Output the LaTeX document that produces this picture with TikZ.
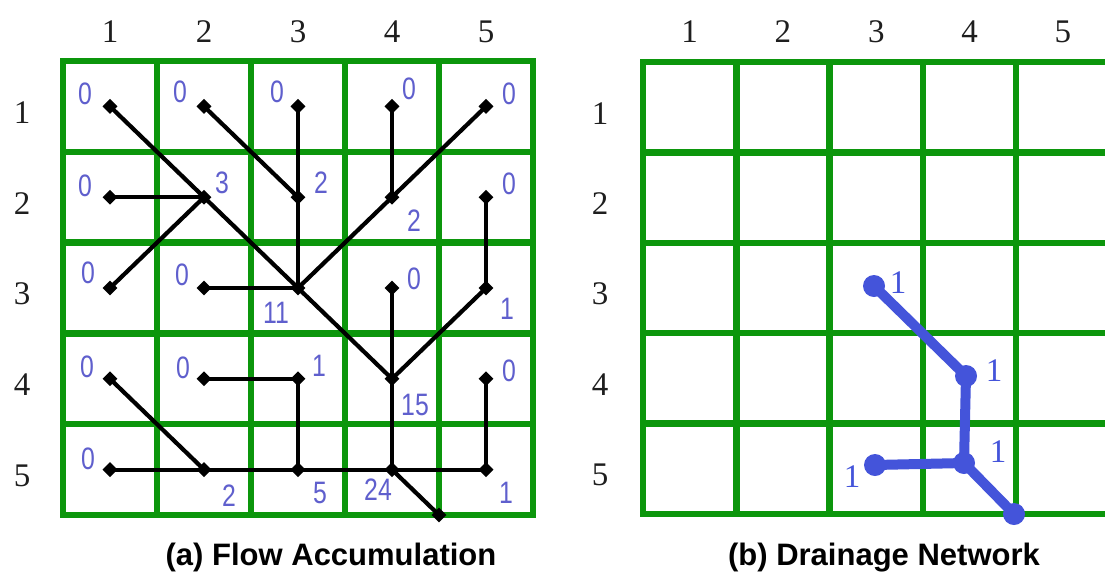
\documentclass[tikz,border=0pt]{standalone}
\usepackage{fontspec}
\usetikzlibrary{shapes.geometric}
\newfontfamily\serifnum{Liberation Serif}
\newfontfamily\cellfont[FakeStretch=0.8]{Liberation Sans}
\newfontfamily\capfont{Liberation Sans}
\definecolor{gridgreen}{RGB}{12,150,12}
\definecolor{acclabel}{RGB}{95,95,205}
\definecolor{netblue}{RGB}{68,84,218}
\definecolor{axisgray}{RGB}{30,30,30}
\tikzset{
  gridline/.style={draw=gridgreen, line width=6.5pt},
  flow/.style={draw=black, line width=4.2pt},
  flowdot/.style={diamond, fill=black, inner sep=0pt, minimum size=15pt},
  acc/.style={text=acclabel, inner sep=0pt, font=\cellfont\fontsize{31}{31}\selectfont},
  axis/.style={text=axisgray, inner sep=0pt, font=\serifnum\fontsize{33}{33}\selectfont},
  net/.style={draw=netblue, line width=10pt, line cap=round, line join=round},
  netdot/.style={circle, fill=netblue, inner sep=0pt, minimum size=22pt},
  netlabel/.style={text=netblue, inner sep=0pt, font=\serifnum\fontsize{33}{33}\selectfont},
  caption/.style={inner sep=0pt, font=\capfont\bfseries\fontsize{31}{31}\selectfont},
}
\begin{document}
\begin{tikzpicture}[x=1pt, y=-1pt]
\useasboundingbox (0,0) rectangle (1105,579);
\fill[white] (0,0) rectangle (1105,579);

% ---------- (a) flow accumulation grid ----------
\foreach \i in {1,...,4} {
  \draw[gridline] ({63+94*\i},61) -- ({63+94*\i},515);
  \draw[gridline] (63,{61+90.8*\i}) -- (533,{61+90.8*\i});
}
\draw[gridline] (63,61) rectangle (533,515);

\foreach \c in {1,...,5} {
  \node[axis] (ca\c) at ({16+94*\c},32) {\c};
  \node[axis] (ra\c) at (22,{21.6+90.8*\c}) {\c};
}

% cell centres
\foreach \r in {1,...,5} {
  \foreach \c in {1,...,5} {
    \coordinate (a\r\c) at ({16+94*\c},{15.6+90.8*\r});
  }
}
\coordinate (aout) at (439,515);

% flow directions
\draw[flow] (a11) -- (a22);
\draw[flow] (a21) -- (a22);
\draw[flow] (a31) -- (a22);
\draw[flow] (a22) -- (a33);
\draw[flow] (a12) -- (a23);
\draw[flow] (a13) -- (a23);
\draw[flow] (a23) -- (a33);
\draw[flow] (a14) -- (a24);
\draw[flow] (a15) -- (a24);
\draw[flow] (a24) -- (a33);
\draw[flow] (a32) -- (a33);
\draw[flow] (a33) -- (a44);
\draw[flow] (a34) -- (a44);
\draw[flow] (a25) -- (a35);
\draw[flow] (a35) -- (a44);
\draw[flow] (a44) -- (a54);
\draw[flow] (a45) -- (a55);
\draw[flow] (a55) -- (a54);
\draw[flow] (a42) -- (a43);
\draw[flow] (a43) -- (a53);
\draw[flow] (a41) -- (a52);
\draw[flow] (a51) -- (a52);
\draw[flow] (a52) -- (a53);
\draw[flow] (a53) -- (a54);
\draw[flow] (a54) -- (aout);

\foreach \r in {1,...,5} {
  \foreach \c in {1,...,5} {
    \node[flowdot] (d\r\c) at (a\r\c) {};
  }
}
\node[flowdot] (dout) at (aout) {};

% accumulation values
\foreach \n/\v/\dx/\dy in {
  11/0/-25/-13, 12/0/-24/-15, 13/0/-21/-15, 14/0/17/-18, 15/0/23/-13,
  21/0/-25/-11, 22/3/18/-14, 23/2/23/-15, 24/2/22/23, 25/0/23/-13,
  31/0/-22/-15, 32/0/-22/-13, 33/11/-22/25, 34/0/22/-9, 35/1/21/21,
  41/0/-23/-12, 42/0/-21/-11, 43/1/21/-13, 44/15/23/26, 45/0/23/-8,
  51/0/-22/-11, 52/2/25/26, 53/5/22/23, 54/24/-14/20, 55/1/20/23} {
  \node[acc] (v\n) at ([shift={(\dx,\dy)}]a\n) {\v};
}

% ---------- (b) drainage network grid ----------
\foreach \i in {1,...,5} {
  \draw[gridline] ({643+93.3*\i},62) -- ({643+93.3*\i},514);
}
\foreach \i in {1,...,4} {
  \draw[gridline] (643,{62+90.4*\i}) -- (1120,{62+90.4*\i});
}
\draw[gridline] (1120,62) -- (643,62) -- (643,514) -- (1120,514);

\foreach \c in {1,...,5} {
  \node[axis] (cb\c) at ({596.35+93.3*\c},32) {\c};
  \node[axis] (rb\c) at (600,{22.8+90.4*\c}) {\c};
}

\coordinate (b33) at (874,286);
\coordinate (b44) at (966,376);
\coordinate (b53) at (875,465);
\coordinate (b54) at (964,463);
\coordinate (bout) at (1014,514);

\draw[net] (b33) -- (b44) -- (b54) -- (bout);
\draw[net] (b53) -- (b54);
\foreach \n in {b33,b44,b53,b54,bout} {
  \node[netdot] (p\n) at (\n) {};
}
\node[netlabel] (n33) at ([shift={(24,-3)}]b33) {1};
\node[netlabel] (n44) at ([shift={(28,-5)}]b44) {1};
\node[netlabel] (n53) at ([shift={(-23,12)}]b53) {1};
\node[netlabel] (n54) at ([shift={(34,-11)}]b54) {1};

% ---------- captions ----------
\node[caption, anchor=base] (capa) at (331,565) {(a) Flow Accumulation};
\node[caption, anchor=base] (capb) at (884,565) {(b) Drainage Network};
\end{tikzpicture}
\end{document}
